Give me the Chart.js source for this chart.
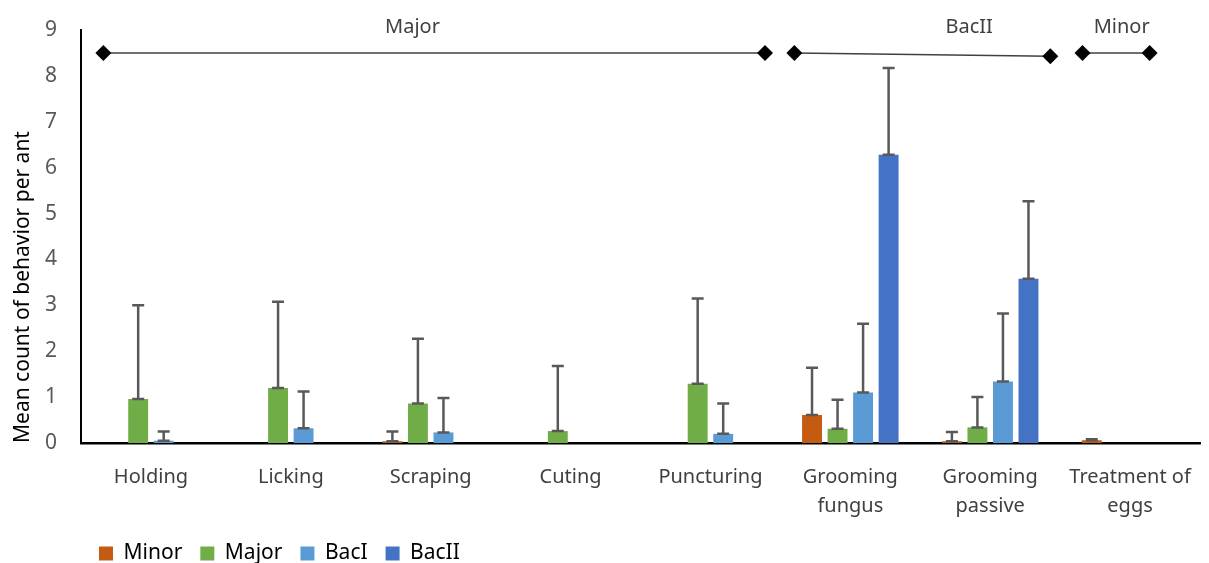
<!DOCTYPE html>
<html>
<head>
<meta charset="utf-8">
<script src="https://cdn.jsdelivr.net/npm/chart.js@4.4.0/dist/chart.umd.min.js"></script>
<style>
  body { margin: 0; background: #fff; }
  #wrap { width: 1209px; height: 563px; }
</style>
</head>
<body>
<div id="wrap"><canvas id="myChart" width="1209" height="563"></canvas></div>
<script>
// categories and series
var categories = ['Holding', 'Licking', 'Scraping', 'Cuting', 'Puncturing',
  ['Grooming', 'fungus'], ['Grooming', 'passive'], ['Treatment of', 'eggs']];
var minorMean = [0, 0, 0.04, 0, 0, 0.61, 0.04, 0.06];
var majorMean = [0.96, 1.2, 0.86, 0.26, 1.29, 0.31, 0.34, 0];
var bacIMean = [0.05, 0.32, 0.23, 0, 0.2, 1.1, 1.34, 0];
var bacIIMean = [0, 0, 0, 0, 0, 6.28, 3.58, 0];
// upper end of the error bars (mean + SD)
var minorErr = [null, null, 0.25, null, null, 1.64, 0.24, 0.08];
var majorErr = [3.0, 3.08, 2.27, 1.68, 3.15, 0.94, 1.0, null];
var bacIErr = [0.25, 1.12, 0.98, null, 0.86, 2.6, 2.82, null];
var bacIIErr = [null, null, null, null, null, 8.17, 5.27, null];
var yTicks = [0, 1, 2, 3, 4, 5, 6, 7, 8, 9];

// significance brackets on top (x in category index units)
var bracketNames = ['Major', 'BacII', 'Minor'];
var bracketFrom = [-0.34, 4.6, 6.66];
var bracketTo = [4.39, 6.43, 7.14];
var bracketYFrom = [8.5, 8.5, 8.5];
var bracketYTo = [8.5, 8.43, 8.5];
var bracketLabelX = [1.87, 5.85, 6.94];
var bracketLabelY = 9.06;

var fontName = "'Noto Sans', 'Open Sans', sans-serif";

var seriesList = [
  { label: 'Minor', data: minorMean, err: minorErr, color: '#C55A11' },
  { label: 'Major', data: majorMean, err: majorErr, color: '#70AD47' },
  { label: 'BacI', data: bacIMean, err: bacIErr, color: '#5B9BD5' },
  { label: 'BacII', data: bacIIMean, err: bacIIErr, color: '#4472C4' }
];

var datasets = seriesList.map(function (s) {
  return {
    label: s.label,
    data: s.data,
    errTop: s.err,
    backgroundColor: s.color,
    borderWidth: 0,
    categoryPercentage: 0.73,
    barPercentage: 0.78
  };
});

var errorBars = {
  id: 'errorBars',
  afterDatasetsDraw: function (chart) {
    var ctx = chart.ctx;
    var yScale = chart.scales.y;
    ctx.save();
    ctx.strokeStyle = '#595959';
    ctx.lineWidth = 2.5;
    chart.data.datasets.forEach(function (ds, di) {
      var meta = chart.getDatasetMeta(di);
      meta.data.forEach(function (bar, i) {
        var top = ds.errTop[i];
        if (top === null || top === undefined) return;
        var x = bar.x;
        var y0 = yScale.getPixelForValue(ds.data[i]);
        var y1 = yScale.getPixelForValue(top);
        ctx.beginPath();
        ctx.moveTo(x, y0); ctx.lineTo(x, y1);
        ctx.moveTo(x - 6, y1); ctx.lineTo(x + 6, y1);
        ctx.moveTo(x - 6, y0); ctx.lineTo(x + 6, y0);
        ctx.stroke();
      });
    });
    ctx.restore();
  }
};

function diamond(ctx, x, y, r) {
  ctx.beginPath();
  ctx.moveTo(x - r, y); ctx.lineTo(x, y - r); ctx.lineTo(x + r, y); ctx.lineTo(x, y + r);
  ctx.closePath();
  ctx.fill();
}

var brackets = {
  id: 'brackets',
  afterDraw: function (chart) {
    var ctx = chart.ctx;
    var xs = chart.scales.x;
    var ys = chart.scales.y;
    ctx.save();
    for (var i = 0; i < bracketNames.length; i++) {
      var x1 = xs.getPixelForValue(bracketFrom[i]);
      var x2 = xs.getPixelForValue(bracketTo[i]);
      var y1 = ys.getPixelForValue(bracketYFrom[i]);
      var y2 = ys.getPixelForValue(bracketYTo[i]);
      ctx.strokeStyle = '#404040';
      ctx.lineWidth = 1.5;
      ctx.beginPath();
      ctx.moveTo(x1, y1); ctx.lineTo(x2, y2);
      ctx.stroke();
      ctx.fillStyle = '#000';
      diamond(ctx, x1, y1, 8);
      diamond(ctx, x2, y2, 8);
      ctx.fillStyle = '#404040';
      ctx.font = '20px ' + fontName;
      ctx.textAlign = 'center';
      ctx.textBaseline = 'middle';
      ctx.fillText(bracketNames[i], xs.getPixelForValue(bracketLabelX[i]), ys.getPixelForValue(bracketLabelY));
    }
    ctx.restore();
  }
};

var ctx = document.getElementById('myChart').getContext('2d');
var chart = new Chart(ctx, {
  type: 'bar',
  data: { labels: categories, datasets: datasets },
  options: {
    responsive: false,
    animation: false,
    layout: { padding: { top: 30, right: 9, left: 0, bottom: -11 } },
    plugins: {
      tooltip: { enabled: false },
      legend: {
        position: 'bottom',
        align: 'start',
        fullSize: false,
        labels: {
          boxWidth: 14,
          boxHeight: 14,
          padding: 18,
          color: '#000',
          font: { family: fontName, size: 21 }
        }
      }
    },
    scales: {
      x: {
        offset: true,
        grid: { display: false },
        border: { display: true, color: '#000', width: 2.5 },
        ticks: { color: '#404040', font: { family: fontName, size: 20, lineHeight: 1.45 }, padding: 12, maxRotation: 0, autoSkip: false },
        afterFit: function (axis) { axis.height = 82; }
      },
      y: {
        min: 0,
        max: 9,
        afterBuildTicks: function (axis) { axis.ticks = yTicks.map(function (v) { return { value: v }; }); },
        grid: { display: false },
        border: { display: true, color: '#000', width: 2 },
        ticks: { color: '#595959', font: { family: fontName, size: 21 }, padding: 16 },
        title: { display: true, text: 'Mean count of behavior per ant', align: 'start', color: '#000', font: { family: fontName, size: 21 }, padding: { top: 10, bottom: 0 } },
        afterFit: function (axis) { axis.width = 81; }
      }
    }
  },
  plugins: [errorBars, brackets]
});
</script>
</body>
</html>
